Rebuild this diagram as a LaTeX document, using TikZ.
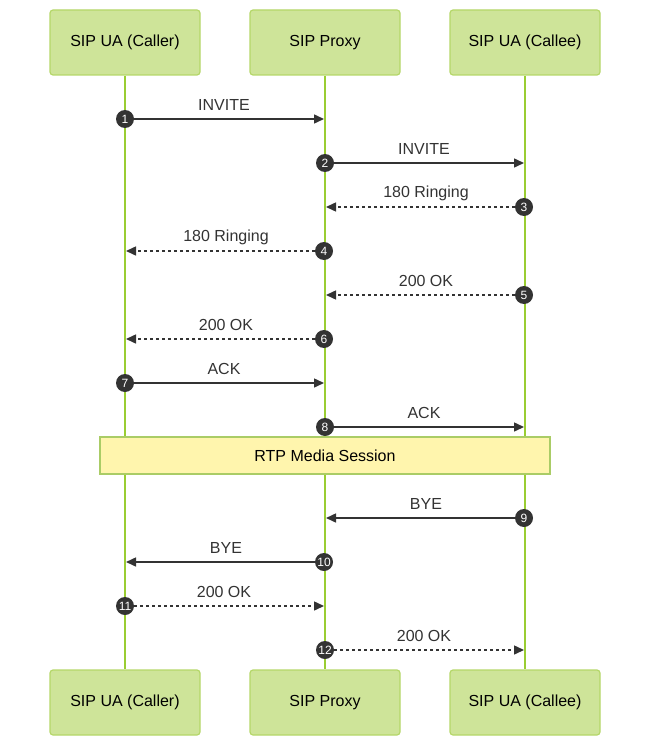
\documentclass[tikz,border=0pt]{standalone}
\usepackage{fontspec}
\setmainfont{Liberation Sans}
\usetikzlibrary{arrows.meta}
\definecolor{actorfill}{RGB}{206,228,153}
\definecolor{actorline}{RGB}{181,215,105}
\definecolor{lifeline}{RGB}{154,205,50}
\definecolor{notefill}{RGB}{255,245,173}
\definecolor{noteline}{RGB}{170,204,102}
\definecolor{ink}{RGB}{51,51,51}
\tikzset{
  actor/.style={draw=actorline, fill=actorfill, line width=1.2pt, rounded corners=3pt,
    minimum width=150pt, minimum height=65pt, font=\fontsize{16}{19}\selectfont},
  life/.style={draw=lifeline, line width=2pt},
  num/.style={circle, fill=ink, text=white, inner sep=0pt, minimum size=18pt,
    font=\fontsize{12}{14}\selectfont},
  msg/.style={draw=ink, line width=1.5pt, -{Triangle[length=10pt,width=9pt]}},
  reply/.style={msg, dash pattern=on 3pt off 3pt},
  lbl/.style={text=ink, font=\fontsize{16}{19}\selectfont},
  notebox/.style={draw=noteline, fill=notefill, line width=1.2pt,
    minimum width=450pt, minimum height=37pt, font=\fontsize{16}{19}\selectfont}
}
\begin{document}
\begin{tikzpicture}[x=1pt,y=-1pt]
  \useasboundingbox (0,0) rectangle (650,746);

  % participants
  \node[actor] (callerT) at (125,42.5) {SIP UA (Caller)};
  \node[actor] (proxyT) at (325,42.5) {SIP Proxy};
  \node[actor] (calleeT) at (525,42.5) {SIP UA (Callee)};
  \node[actor] (callerB) at (125,702.5) {SIP UA (Caller)};
  \node[actor] (proxyB) at (325,702.5) {SIP Proxy};
  \node[actor] (calleeB) at (525,702.5) {SIP UA (Callee)};

  % lifelines
  \draw[life] (callerT) -- (callerB);
  \draw[life] (proxyT) -- (proxyB);
  \draw[life] (calleeT) -- (calleeB);

  % media session
  \node[notebox] (rtp) at (325,455.5) {RTP Media Session};

  % messages
  \node[num] (n1) at (125,119) {1};
  \coordinate (t1) at (324,119);
  \draw[msg] (n1) -- (t1);
  \node[lbl] (l1) at (224,105) {INVITE};

  \node[num] (n2) at (325,163) {2};
  \coordinate (t2) at (524,163);
  \draw[msg] (n2) -- (t2);
  \node[lbl] (l2) at (424,149) {INVITE};

  \node[num] (n3) at (524,207) {3};
  \coordinate (t3) at (326,207);
  \draw[reply] (n3) -- (t3);
  \node[lbl] (l3) at (426,193) {180 Ringing};

  \node[num] (n4) at (324,251) {4};
  \coordinate (t4) at (126,251);
  \draw[reply] (n4) -- (t4);
  \node[lbl] (l4) at (226,237) {180 Ringing};

  \node[num] (n5) at (524,295) {5};
  \coordinate (t5) at (326,295);
  \draw[reply] (n5) -- (t5);
  \node[lbl] (l5) at (426,281) {200 OK};

  \node[num] (n6) at (324,339) {6};
  \coordinate (t6) at (126,339);
  \draw[reply] (n6) -- (t6);
  \node[lbl] (l6) at (226,325) {200 OK};

  \node[num] (n7) at (125,383) {7};
  \coordinate (t7) at (324,383);
  \draw[msg] (n7) -- (t7);
  \node[lbl] (l7) at (224,369) {ACK};

  \node[num] (n8) at (325,427) {8};
  \coordinate (t8) at (524,427);
  \draw[msg] (n8) -- (t8);
  \node[lbl] (l8) at (424,413) {ACK};

  \node[num] (n9) at (524,518) {9};
  \coordinate (t9) at (326,518);
  \draw[msg] (n9) -- (t9);
  \node[lbl] (l9) at (426,504) {BYE};

  \node[num] (n10) at (324,562) {10};
  \coordinate (t10) at (126,562);
  \draw[msg] (n10) -- (t10);
  \node[lbl] (l10) at (226,548) {BYE};

  \node[num] (n11) at (125,606) {11};
  \coordinate (t11) at (324,606);
  \draw[reply] (n11) -- (t11);
  \node[lbl] (l11) at (224,592) {200 OK};

  \node[num] (n12) at (325,650) {12};
  \coordinate (t12) at (524,650);
  \draw[reply] (n12) -- (t12);
  \node[lbl] (l12) at (424,636) {200 OK};
\end{tikzpicture}
\end{document}
